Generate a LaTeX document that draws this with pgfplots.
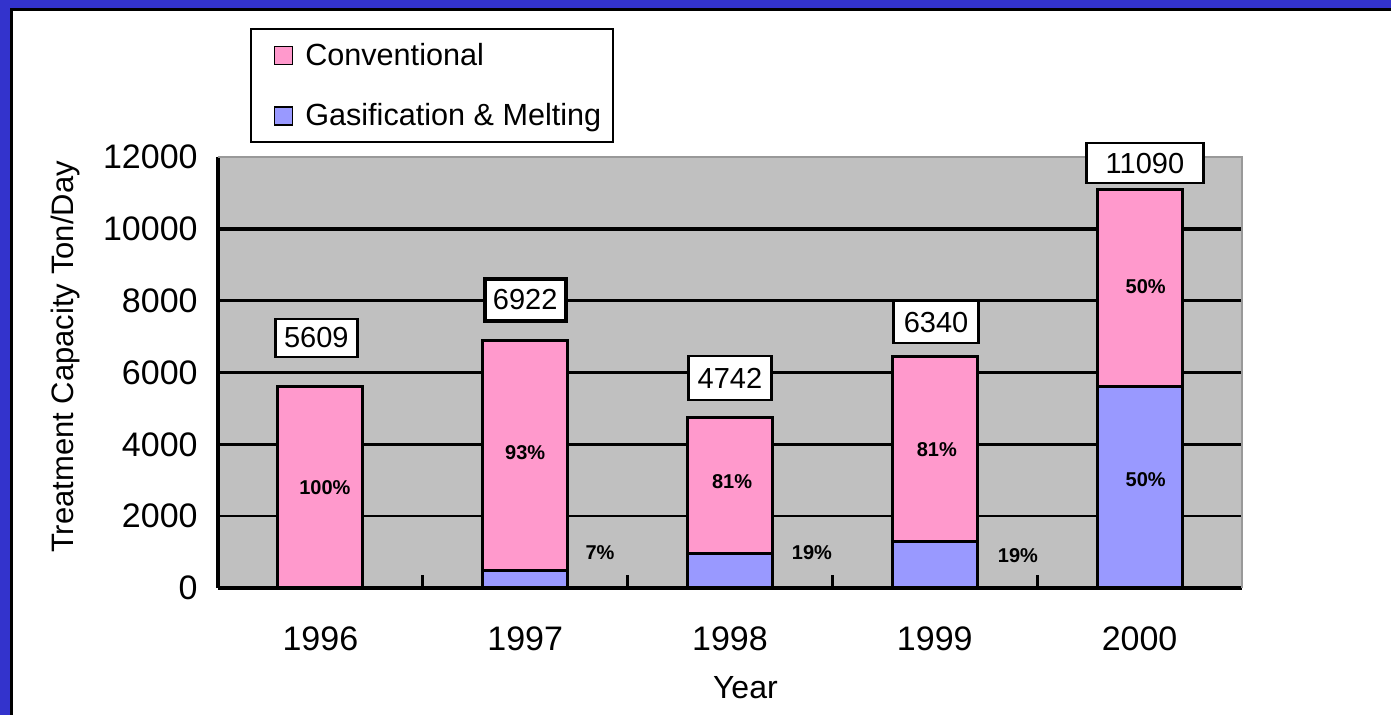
\documentclass[border=0pt]{standalone}
\usepackage{pgfplots}
\pgfplotsset{compat=1.18}
\usepackage{fontspec}
\setmainfont{Liberation Sans}
\definecolor{frameblue}{RGB}{51,51,204}
\definecolor{pinkc}{RGB}{255,153,204}
\definecolor{bluec}{RGB}{153,153,255}
\definecolor{plotbg}{RGB}{192,192,192}
\begin{document}
\begin{tikzpicture}
\fill[white] (-109pt,-63.5pt) rectangle (586.5pt,294pt);
\fill[frameblue] (-109pt,290pt) rectangle (586.5pt,294pt);
\fill[frameblue] (-109pt,-63.5pt) rectangle (-104pt,294pt);
\fill[black] (-104pt,288.5pt) rectangle (586.5pt,290pt);
\fill[black] (-104pt,-63.5pt) rectangle (-102.5pt,290pt);
\begin{axis}[
  name=ax,
  at={(0,0)}, anchor=south west,
  width=512pt, height=215.5pt, scale only axis,
  clip=false,
  ybar stacked, bar width=42.5pt,
  xmin=-0.5, xmax=4.5, ymin=0, ymax=12000,
  axis lines*=left,
  axis line style={-, black, line width=1.6pt},
  axis background/.style={fill=plotbg},
  xtick={0,1,2,3,4}, xticklabels={1996,1997,1998,1999,2000},
  major tick length=0pt,
  extra x ticks={0.5,1.5,2.5,3.5}, extra x tick labels={},
  extra x tick style={major tick length=6.5pt, tick align=inside, tick style={draw=black, line width=1.5pt}},
  ytick={0,2000,4000,6000,8000,12000},
  extra y ticks={10000}, extra y tick style={grid style={black, line width=2.2pt}},
  ymajorgrids, grid style={black, line width=1.2pt},
  scaled y ticks=false,
  /pgf/number format/.cd, fixed, 1000 sep={}, assume math mode=true,
  /pgfplots/.cd,
  tick label style={font=\fontsize{17}{20}\selectfont},
  yticklabel style={inner sep=0pt, xshift=-10pt},
  xticklabel style={inner sep=0pt, yshift=-19pt},
  xlabel={Year},
  xlabel style={font=\fontsize{16}{19}\selectfont, at={([yshift=-50pt]axis description cs:0.515,0)}, anchor=center},
  ylabel={Treatment Capacity Ton/Day},
  ylabel style={font=\fontsize{15.5}{18}\selectfont, at={([xshift=-76.5pt]axis description cs:0,0.536)}, anchor=center},
  reverse legend,
  legend cell align=left,
  legend style={at={(axis description cs:0.03125,1.2993)}, anchor=north west,
    draw=black, line width=1pt, fill=white,
    font=\fontsize{15.3}{18}\selectfont,
    inner xsep=6pt, inner ysep=7pt, row sep=17.5pt,
    nodes={inner sep=0pt},
    /tikz/every odd column/.append style={column sep=6pt}},
]
\addplot[fill=bluec, draw=black, line width=1.5pt,
  legend image code/.code={\path (-5pt,0pt); \draw[fill=bluec, draw=black, line width=0.8pt] (0pt,-4.5pt) rectangle (9pt,4.5pt);}]
  coordinates {(0,0) (1,500) (2,950) (3,1300) (4,5600)};
\addlegendentry{Gasification \& Melting}
\addplot[fill=pinkc, draw=black, line width=1.5pt,
  legend image code/.code={\path (-5pt,0pt); \draw[fill=pinkc, draw=black, line width=0.8pt] (0pt,-4.5pt) rectangle (9pt,4.5pt);}]
  coordinates {(0,5609) (1,6400) (2,3792) (3,5150) (4,5490)};
\addlegendentry{Conventional}
% label anchors
\coordinate (t0) at (axis cs:-0.02,6960);
\coordinate (t1) at (axis cs:1.0,8018);
\coordinate (t2) at (axis cs:2.0,5846);
\coordinate (t3) at (axis cs:3.006,7405);
\coordinate (t4) at (axis cs:4.026,11832);
\coordinate (p0) at (axis cs:0.022,2784);
\coordinate (p1) at (axis cs:1.0,3758);
\coordinate (q1) at (axis cs:1.365,974);
\coordinate (p2) at (axis cs:2.01,2951);
\coordinate (q2) at (axis cs:2.40,974);
\coordinate (p3) at (axis cs:3.01,3842);
\coordinate (q3) at (axis cs:3.406,891);
\coordinate (p4) at (axis cs:4.03,8380);
\coordinate (q4) at (axis cs:4.03,3007);
\end{axis}
\draw[gray!80, line width=1pt] (ax.north west) -- (ax.north east) -- (ax.south east);
\tikzset{tot/.style={draw=black, line width=1.2pt, fill=white, inner sep=0pt, minimum height=19pt, font=\fontsize{14.5}{17}\selectfont}}
\node[tot, minimum width=41pt] at (t0) {5609};
\node[tot, minimum width=40.5pt, minimum height=21pt, line width=2pt] at (t1) {6922};
\node[tot, minimum width=41.5pt, minimum height=22pt] at (t2) {4742};
\node[tot, minimum width=42.5pt, minimum height=21pt] at (t3) {6340};
\node[tot, minimum width=58.5pt, minimum height=20pt] at (t4) {11090};
\tikzset{pct/.style={inner sep=0pt, font=\bfseries\fontsize{10}{12}\selectfont}}
\node[pct] at (p0) {100\%};
\node[pct] at (p1) {93\%};
\node[pct] at (q1) {7\%};
\node[pct] at (p2) {81\%};
\node[pct] at (q2) {19\%};
\node[pct] at (p3) {81\%};
\node[pct] at (q3) {19\%};
\node[pct] at (p4) {50\%};
\node[pct] at (q4) {50\%};
\end{tikzpicture}
\end{document}
